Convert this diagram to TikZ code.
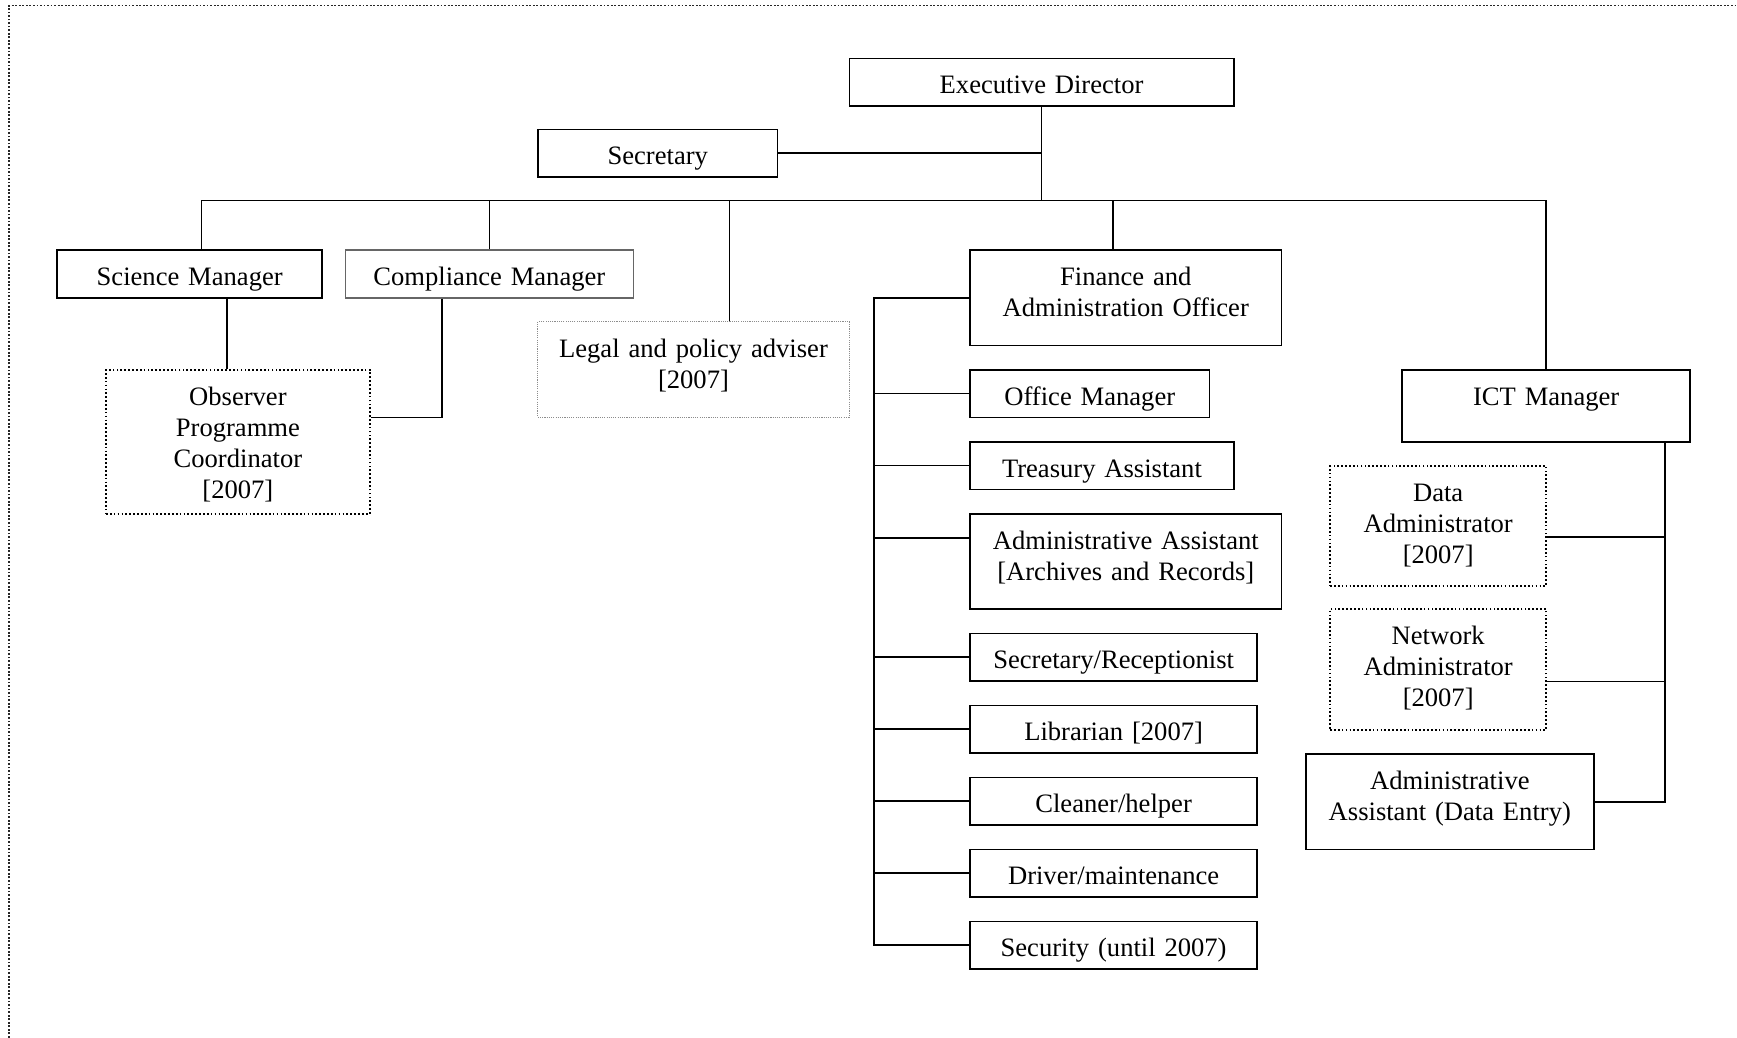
\documentclass[tikz,border=0pt]{standalone}
\usepackage{fontspec}
\setmainfont{Liberation Serif}

\tikzset{every picture/.style={line width=0.75pt}}
\tikzset{
  post/.style={draw, inner sep=0pt, anchor=north west, align=center, text height=16pt, text depth=5.5pt, font=\fontsize{12}{14}\selectfont},
  postdot/.style={post, densely dotted},
  postgrey/.style={post, draw=black!60},
  postfaint/.style={post, draw=black!45, line width=0.5pt, dash pattern=on 0.5pt off 0.5pt},
  frame/.style={line width=0.6pt, black!85, dash pattern=on 0.8pt off 0.8pt}
}

\begin{document}
\begin{tikzpicture}[x=0.5pt,y=0.5pt,yscale=-1]
\useasboundingbox (0,0) rectangle (1568,937);

%Shape: outer frame
\draw [frame] (8,940) -- (8,5) -- (1570,5) ;

%Shape: Rectangle
\node [post, text width=173.5pt] (ed) at (766,52) {Executive Director};
%Shape: Rectangle
\node [post, text width=108pt] (sec) at (485,116) {Secretary};
%Shape: Rectangle
\node [post, text width=119.5pt] (sci) at (51,225) {Science Manager};
%Shape: Rectangle
\node [postgrey, text width=130pt] (comp) at (311,225) {Compliance Manager};
%Shape: Rectangle
\node [postfaint, text width=140.5pt, text depth=27pt] (legal) at (485,290) {Legal and policy adviser\\{[2007]}};
%Shape: Rectangle
\node [postdot, text width=119pt, text depth=49pt] (obs) at (95,333) {Observer\\Programme\\Coordinator\\{[2007]}};

%Shape: Rectangle
\node [post, text width=140.5pt, text depth=27pt] (fin) at (875,225) {Finance and\\Administration Officer};
%Shape: Rectangle
\node [post, text width=108pt] (office) at (875,333) {Office Manager};
%Shape: Rectangle
\node [post, text width=119pt] (treas) at (875,398) {Treasury Assistant};
%Shape: Rectangle
\node [post, text width=140.5pt, text depth=27pt] (admrec) at (875,463) {Administrative Assistant\\{[Archives and Records]}};
%Shape: Rectangle
\node [post, text width=129.5pt] (recep) at (875,571) {Secretary/Receptionist};
%Shape: Rectangle
\node [post, text width=129.5pt] (lib) at (875,636) {Librarian [2007]};
%Shape: Rectangle
\node [post, text width=129.5pt] (clean) at (875,701) {Cleaner/helper};
%Shape: Rectangle
\node [post, text width=129.5pt] (driver) at (875,766) {Driver/maintenance};
%Shape: Rectangle
\node [post, text width=129.5pt] (secur) at (875,831) {Security (until 2007)};

%Shape: Rectangle
\node [post, text width=130pt, text depth=16.5pt] (ict) at (1265,333) {ICT Manager};
%Shape: Rectangle
\node [postdot, text width=97.5pt, text depth=38pt] (data) at (1200,420) {Data\\Administrator\\{[2007]}};
%Shape: Rectangle
\node [postdot, text width=97.5pt, text depth=38.5pt] (net) at (1200,549) {Network\\Administrator\\{[2007]}};
%Shape: Rectangle
\node [post, text width=130pt, text depth=27pt] (aade) at (1178,680) {Administrative\\Assistant (Data Entry)};

\coordinate (bus) at (0,181);
\coordinate (fbus) at (789,0);
\coordinate (ibus) at (1503,0);

%Straight Lines
\draw (ed.south) -- (ed.south |- bus) ;
\draw (sec.east) -- (sec.east -| ed.south) ;
\draw ([xshift=5.25pt]sci.north) |- (bus -| ict.north) -- (ict.north) ;
\draw (comp.north) -- (comp.north |- bus) ;
\draw ([xshift=16.25pt]legal.north) -- ([xshift=16.25pt]legal.north |- bus) ;
\draw ([xshift=-5.75pt]fin.north) -- ([xshift=-5.75pt]fin.north |- bus) ;

%Straight Lines
\draw ([xshift=16.75pt]sci.south) -- ([xshift=16.75pt]sci.south |- obs.north) ;
\draw ([xshift=-21.5pt]comp.south) |- ([yshift=-11pt]obs.east) ;

%Straight Lines
\draw (fin.west) -- (fin.west -| fbus) |- (secur.west) ;
\draw (office.west) -- (office.west -| fbus) ;
\draw (treas.west) -- (treas.west -| fbus) ;
\draw ([yshift=-10.5pt]admrec.west) -- ([yshift=-10.5pt]admrec.west -| fbus) ;
\draw (recep.west) -- (recep.west -| fbus) ;
\draw (lib.west) -- (lib.west -| fbus) ;
\draw (clean.west) -- (clean.west -| fbus) ;
\draw (driver.west) -- (driver.west -| fbus) ;

%Straight Lines
\draw (ict.south -| ibus) |- (aade.east) ;
\draw ([yshift=5pt]data.east) -- ([yshift=5pt]data.east -| ibus) ;
\draw ([yshift=5.5pt]net.east) -- ([yshift=5.5pt]net.east -| ibus) ;

\end{tikzpicture}
\end{document}
